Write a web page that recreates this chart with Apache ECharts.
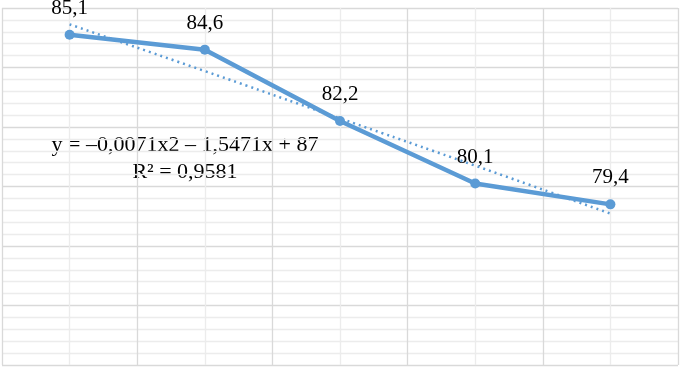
<!DOCTYPE html>
<html>
<head>
<meta charset="utf-8">
<script src="https://cdn.jsdelivr.net/npm/echarts@6/dist/echarts.min.js"></script>
<style>html,body{margin:0;padding:0;background:#fff;}#c{width:681px;height:367px;}</style>
</head>
<body>
<div id="c"></div>
<script>
var categories = ['1', '2', '3', '4', '5'];
var values = [85.1, 84.6, 82.2, 80.1, 79.4];
var labelTexts = ['85,1', '84,6', '82,2', '80,1', '79,4'];
var trendValues = [85.45, 83.88, 82.29, 80.70, 79.09];
var equationLines = ['y = –0,0071x2 – 1,5471x + 87', 'R² = 0,9581'];
var yMin = 74, yMax = 86, yStep = 2;

var chart = echarts.init(document.getElementById('c'));
var serif = '"Liberation Serif", "Times New Roman", serif';
chart.setOption({
  animation: false,
  backgroundColor: '#fff',
  grid: { left: 2, right: 3, top: 8, bottom: 2, containLabel: false },
  xAxis: [
    { type: 'category', data: categories, boundaryGap: true, show: true,
      axisLine: { show: false }, axisTick: { show: false }, axisLabel: { show: false },
      splitLine: { show: false } },
    { type: 'value', min: 0, max: categories.length * 2, interval: 2,
      axisLine: { show: false }, axisTick: { show: false }, axisLabel: { show: false },
      splitLine: { show: true, lineStyle: { color: '#d9d9d9', width: 1.3 } },
      minorTick: { show: false, splitNumber: 2 },
      minorSplitLine: { show: true, lineStyle: { color: '#ececec', width: 1.3 } } }
  ],
  yAxis: {
    type: 'value', min: yMin, max: yMax, interval: yStep,
    axisLine: { show: false }, axisTick: { show: false }, axisLabel: { show: false },
    splitLine: { show: true, lineStyle: { color: '#d9d9d9', width: 1.3 } },
    minorTick: { show: false, splitNumber: 5 },
    minorSplitLine: { show: true, lineStyle: { color: '#ececec', width: 1.3 } }
  },
  series: [
    { type: 'line', xAxisIndex: 0, data: values, z: 3,
      symbol: 'circle', symbolSize: 10,
      lineStyle: { color: '#5b9bd5', width: 4.5 },
      itemStyle: { color: '#5b9bd5' },
      label: { show: true, position: 'top', distance: 11,
        formatter: function (p) { return labelTexts[p.dataIndex]; },
        color: '#000', fontFamily: serif, fontSize: 21 } },
    { type: 'line', xAxisIndex: 0, data: trendValues, z: 4, smooth: true,
      symbol: 'none', silent: true,
      lineStyle: { color: '#5b9bd5', width: 2.5, type: [2, 4] } }
  ],
  graphic: [
    { type: 'text', x: 185, y: 145, style: { text: equationLines[0], x: 0, y: 0,
        align: 'center', verticalAlign: 'middle',
        font: '22px ' + serif, fill: '#000' } },
    { type: 'text', x: 185, y: 172, style: { text: equationLines[1], x: 0, y: 0,
        align: 'center', verticalAlign: 'middle',
        font: '22px ' + serif, fill: '#000' } }
  ]
});
</script>
</body>
</html>
